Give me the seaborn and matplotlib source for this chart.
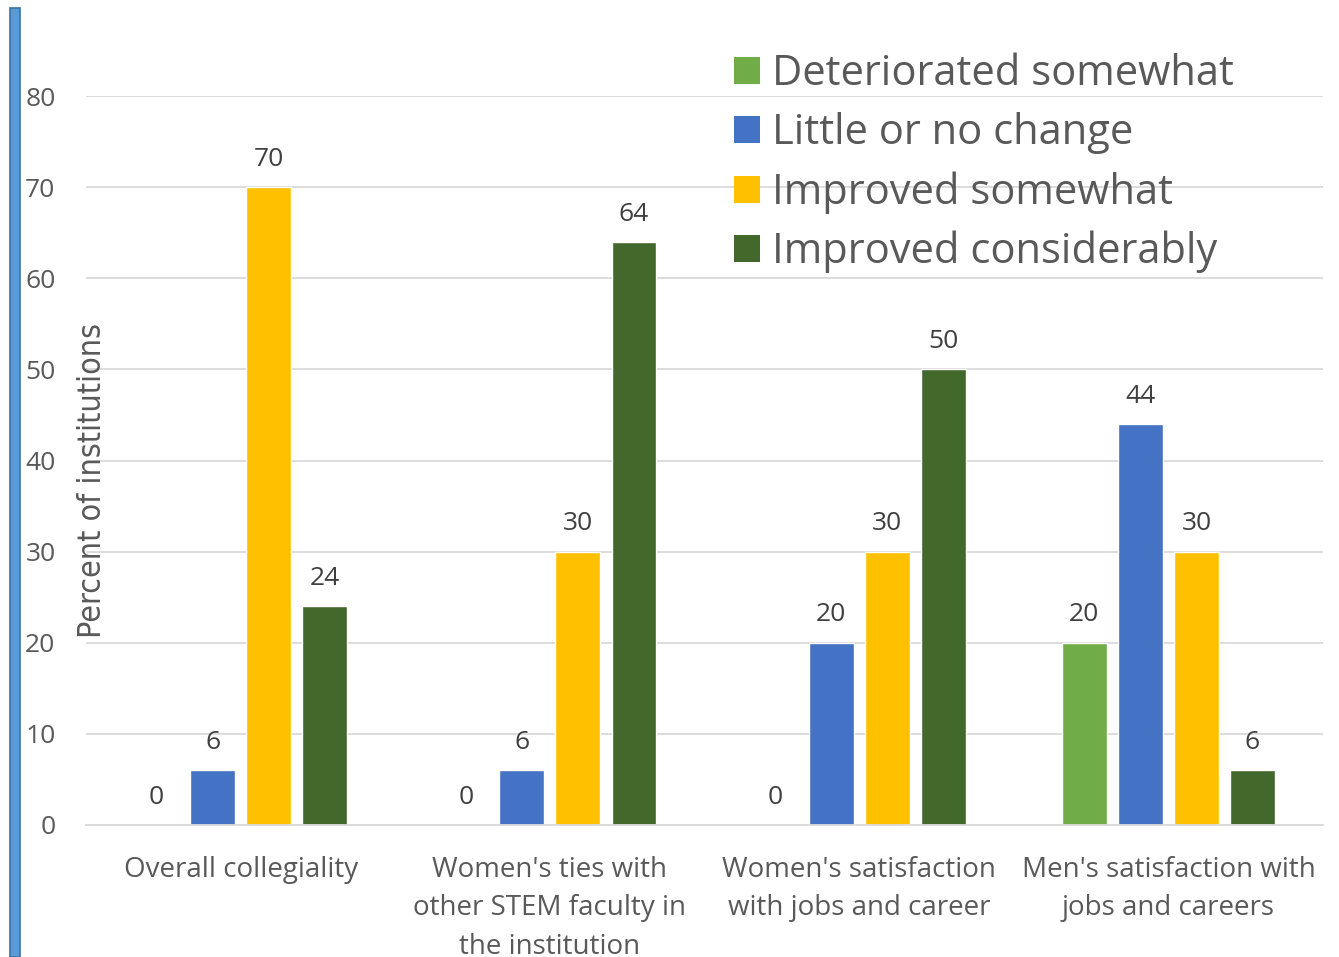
import pandas as pd
import seaborn as sns
import matplotlib.pyplot as plt
from matplotlib.patches import Patch, Rectangle

categories = ["Overall collegiality",
              "Women's ties with\nother STEM faculty in\nthe institution",
              "Women's satisfaction\nwith jobs and career",
              "Men's satisfaction with\njobs and careers"]
levels = ["Deteriorated somewhat", "Little or no change",
          "Improved somewhat", "Improved considerably"]
deteriorated = [0, 0, 0, 20]
little_change = [6, 6, 20, 44]
improved_some = [70, 30, 30, 30]
improved_much = [24, 64, 50, 6]
colors = ["#70AD47", "#4472C4", "#FFC000", "#43682B"]

rows = []
for lvl, vals in zip(levels, [deteriorated, little_change, improved_some, improved_much]):
    for cat, v in zip(categories, vals):
        rows.append({"category": cat, "level": lvl, "value": v})
df = pd.DataFrame(rows)

sns.set_style("white")
plt.rcParams['font.family'] = ['Open Sans', 'DejaVu Sans']

fig = plt.figure(figsize=(13.39, 9.57), dpi=100)
ax = fig.add_axes([86 / 1339, 1 - 825 / 957, (1323 - 86) / 1339, (825 - 96) / 957])

sns.barplot(data=df, x="category", y="value", hue="level", hue_order=levels,
            order=categories, palette=colors, width=0.725, gap=0.2,
            saturation=1, legend=False, ax=ax)

for cont in ax.containers:
    ax.bar_label(cont, fmt="%g", padding=11, fontsize=19, color="#404040")

ax.set_ylim(0, 80)
ax.set_yticks(range(0, 81, 10))
ax.yaxis.grid(True, color="#D9D9D9", linewidth=1.3)
ax.set_axisbelow(True)
for s in ["top", "right", "left"]:
    ax.spines[s].set_visible(False)
ax.spines["bottom"].set_color("#D9D9D9")
ax.spines["bottom"].set_linewidth(1.3)
ax.tick_params(axis="y", length=0, pad=22, labelsize=19, labelcolor="#595959")
ax.tick_params(axis="x", length=0, pad=22, labelsize=20, labelcolor="#595959")
for t in ax.get_xticklabels():
    t.set_linespacing(1.5)
ax.set_xlabel("")
ax.set_ylabel("Percent of institutions", fontsize=23, color="#595959",
              fontstretch="condensed", family=["DejaVu Sans"])
ax.yaxis.set_label_coords(0.018, 0.473)

handles = [Patch(facecolor=c, edgecolor="none") for c in colors]
fig.legend(handles=handles, labels=levels, loc="upper left",
           bbox_to_anchor=(734 / 1339, 1 - 53 / 957), frameon=False,
           fontsize=30, labelcolor="#595959", handlelength=0.62,
           handleheight=0.62, handletextpad=0.3, labelspacing=0.41,
           borderpad=0, borderaxespad=0)

fig.patches.append(Rectangle((10 / 1339, 0), 10 / 1339, (957 - 8) / 957,
                             transform=fig.transFigure, facecolor="#5B9BD5",
                             edgecolor="#41719C", linewidth=1.2))

fig.savefig("out.png", dpi=100)
